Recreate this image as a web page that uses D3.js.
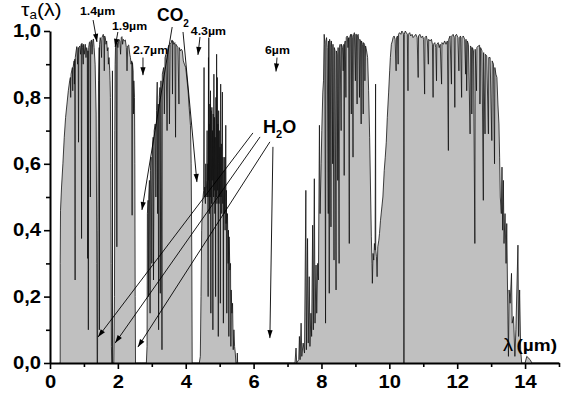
<!DOCTYPE html>
<html>
<head>
<meta charset="utf-8">
<script src="https://cdn.jsdelivr.net/npm/d3@7"></script>
<style>
  html, body { margin: 0; padding: 0; background: #fff; }
  svg { display: block; font-family: "Liberation Sans", Arial, sans-serif; }
</style>
</head>
<body>
<svg id="chart" width="570" height="395"></svg>
<script>
// Atmospheric transmittance spectrum, [wavelength (µm), transmittance] pairs per band.
const band1 = [
  [0.28,0],[0.30,0],[0.30,0.30],[0.31,0.46],[0.34,0.53],[0.38,0.60],[0.42,0.68],[0.46,0.74],
  [0.50,0.78],[0.54,0.82],[0.58,0.85],[0.60,0.86],[0.61,0.80],[0.62,0.87],[0.66,0.89],[0.67,0.82],
  [0.68,0.89],[0.71,0.91],[0.72,0.84],[0.73,0.915],[0.74,0.25],[0.745,0.92],[0.77,0.94],[0.79,0.953],
  [0.81,0.90],[0.83,0.95],[0.84,0.665],[0.85,0.95],[0.88,0.955],[0.90,0.93],[0.92,0.96],[0.93,0.375],
  [0.94,0.963],[0.96,0.95],[0.98,0.90],[0.99,0.96],[1.01,0.93],[1.04,0.96],[1.06,0.92],[1.08,0.95],
  [1.10,0.94],[1.11,0.315],[1.12,0.94],[1.13,0.10],[1.14,0.95],[1.16,0.965],[1.18,0.968],[1.19,0.50],
  [1.20,0.96],[1.22,0.973],[1.24,0.93],[1.26,0.97],[1.28,0.976],[1.30,0.95],[1.33,0.90],[1.36,0.75],
  [1.38,0.30],[1.39,0]
];
const band2 = [
  [1.40,0],[1.41,0.40],[1.43,0.85],[1.45,0.95],[1.455,0.10],[1.46,0.96],[1.48,0.98],[1.50,0.97],
  [1.52,0.92],[1.53,0.98],[1.55,0.985],[1.57,0.99],[1.59,0.97],[1.60,0.88],[1.61,0.985],[1.63,0.98],
  [1.65,0.96],[1.67,0.97],[1.69,0.94],[1.71,0.95],[1.72,0.90],[1.74,0.92],[1.76,0.88],[1.77,0.85],
  [1.78,0.80],[1.79,0.60],[1.80,0.30],[1.81,0.05],[1.82,0],[1.835,0],[1.84,0.88],[1.845,0]
];
const band3 = [
  [1.88,0],[1.90,0.20],[1.91,0.70],[1.92,0.90],[1.93,0.95],[1.95,0.96],[1.97,0.35],[1.98,0.965],
  [2.00,0.95],[2.03,0.975],[2.06,0.97],[2.08,0.93],[2.10,0.98],[2.12,0.983],[2.14,0.96],[2.16,0.975],
  [2.19,0.97],[2.22,0.973],[2.25,0.95],[2.27,0.88],[2.29,0.955],[2.32,0.958],[2.35,0.93],[2.37,0.92],
  [2.39,0.90],[2.41,0.91],[2.42,0.445],[2.43,0.905],[2.45,0.88],[2.46,0.75],[2.47,0.85],[2.49,0.80],
  [2.50,0.60],[2.51,0.20],[2.52,0],[2.55,0]
];
const band4 = [
  [2.84,0],[2.86,0.05],[2.87,0.45],[2.89,0.49],[2.90,0.20],[2.91,0.50],[2.93,0.55],[2.95,0.15],
  [2.96,0.58],[2.98,0.62],[3.00,0.30],[3.02,0.65],[3.04,0.68],[3.05,0.25],[3.07,0.70],[3.10,0.72],
  [3.12,0.50],[3.14,0.76],[3.16,0.846],[3.17,0.45],[3.19,0.78],[3.20,0.10],[3.22,0.80],[3.24,0.83],
  [3.25,0.21],[3.27,0.85],[3.30,0.04],[3.31,0.87],[3.33,0.88],[3.35,0.89],[3.37,0.75],[3.39,0.92],
  [3.42,0.93],[3.45,0.70],[3.47,0.945],[3.50,0.957],[3.52,0.72],[3.54,0.96],[3.57,0.965],[3.60,0.973],
  [3.61,0.81],[3.62,0.97],[3.65,0.96],[3.68,0.965],[3.70,0.68],[3.71,0.96],[3.74,0.955],[3.77,0.95],
  [3.80,0.78],[3.81,0.95],[3.84,0.94],[3.87,0.945],[3.90,0.94],[3.93,0.91],[3.96,0.90],[4.00,0.89],
  [4.04,0.85],[4.07,0.82],[4.10,0.77],[4.14,0.716],[4.16,0.60],[4.18,0.30],[4.19,0],[4.22,0]
];
const band5 = [
  [4.40,0],[4.43,0.02],[4.45,0.20],[4.47,0.40],[4.49,0.48],[4.51,0.50],[4.53,0.52],[4.54,0.89],
  [4.545,0.50],[4.56,0.53],[4.58,0.48],[4.59,0.60],[4.60,0.50],[4.62,0.55],[4.63,0.70],[4.64,0.50],
  [4.65,0.60],[4.66,0.20],[4.665,0.62],[4.67,0.92],[4.675,0.55],[4.68,0.98],[4.685,0.50],[4.69,0.72],
  [4.70,0.45],[4.71,0.78],[4.72,0.50],[4.73,0.82],[4.74,0.15],[4.745,0.60],[4.75,0.76],[4.76,0.48],
  [4.77,0.77],[4.78,0.55],[4.79,0.70],[4.80,0.10],[4.805,0.60],[4.81,0.75],[4.82,0.50],[4.83,0.87],
  [4.84,0.52],[4.85,0.74],[4.86,0.45],[4.87,0.68],[4.88,0.20],[4.885,0.55],[4.89,0.80],[4.90,0.50],
  [4.91,0.93],[4.92,0.48],[4.93,0.86],[4.94,0.52],[4.95,0.72],[4.96,0.08],[4.965,0.60],[4.97,0.76],
  [4.98,0.48],[4.99,0.70],[5.00,0.50],[5.01,0.65],[5.02,0.18],[5.025,0.55],[5.03,0.84],[5.04,0.50],
  [5.05,0.66],[5.06,0.45],[5.07,0.60],[5.08,0.816],[5.09,0.48],[5.10,0.62],[5.11,0.12],[5.115,0.50],
  [5.13,0.58],[5.14,0.45],[5.15,0.62],[5.16,0.40],[5.18,0.716],[5.19,0.42],[5.20,0.52],[5.21,0.15],
  [5.215,0.40],[5.23,0.45],[5.25,0.30],[5.26,0.40],[5.27,0.08],[5.28,0.38],[5.30,0.28],[5.32,0.30],
  [5.33,0.05],[5.34,0.22],[5.36,0.15],[5.38,0.18],[5.40,0.04],[5.42,0.10],[5.44,0.05],[5.46,0.03],
  [5.48,0],[5.51,0],[5.52,0.03],[5.53,0]
];
const band6 = [
  [7.15,0],[7.22,0],[7.25,0.045],[7.27,0],[7.33,0.01],[7.35,0.08],[7.37,0.01],[7.40,0.12],
  [7.42,0.02],[7.46,0.06],[7.50,0.03],[7.54,0.52],[7.555,0.04],[7.59,0.375],[7.61,0.06],[7.64,0.26],
  [7.66,0.05],[7.69,0.15],[7.71,0.08],[7.74,0.415],[7.76,0.10],[7.79,0.555],[7.81,0.12],[7.84,0.295],
  [7.86,0.15],[7.89,0.30],[7.91,0.25],[7.94,0.716],[7.96,0.45],[7.99,0.60],[8.01,0.70],[8.04,0.816],
  [8.06,0.85],[8.08,0.99],[8.10,0.96],[8.12,0.12],[8.13,0.97],[8.15,0.98],[8.17,0.95],[8.20,0.45],
  [8.21,0.97],[8.23,0.21],[8.24,0.975],[8.26,0.96],[8.28,0.41],[8.29,0.97],[8.31,0.95],[8.33,0.60],
  [8.34,0.96],[8.37,0.31],[8.38,0.95],[8.40,0.94],[8.43,0.22],[8.44,0.94],[8.46,0.93],[8.48,0.55],
  [8.49,0.95],[8.52,0.30],[8.53,0.95],[8.55,0.96],[8.58,0.70],[8.59,0.96],[8.62,0.95],[8.64,0.88],
  [8.66,0.96],[8.67,0.565],[8.68,0.96],[8.70,0.97],[8.72,0.80],[8.73,0.98],[8.76,0.985],[8.78,0.95],
  [8.80,0.98],[8.82,0.36],[8.83,0.98],[8.86,0.99],[8.88,0.75],[8.89,0.99],[8.91,0.98],[8.93,0.62],
  [8.94,0.985],[8.97,0.995],[9.00,0.85],[9.01,0.99],[9.03,0.99],[9.05,0.78],[9.06,0.985],[9.08,0.99],
  [9.10,0.97],[9.12,0.80],[9.13,0.975],[9.15,0.97],[9.17,0.72],[9.18,0.97],[9.21,0.96],[9.23,0.75],
  [9.24,0.965],[9.27,0.96],[9.28,0.85],[9.30,0.955],[9.33,0.94],[9.36,0.92],[9.39,0.82],[9.42,0.68],
  [9.45,0.50],[9.47,0.38],[9.49,0.30],[9.50,0.24],[9.52,0.33],[9.54,0.31],[9.56,0.36],[9.58,0.34],
  [9.595,0.84],[9.60,0.34],[9.62,0.32],[9.64,0.26],[9.66,0.35],[9.69,0.37],[9.71,0.39],[9.74,0.43],
  [9.78,0.47],[9.81,0.50],[9.85,0.58],[9.88,0.62],[9.91,0.665],[9.94,0.74],[9.98,0.816],[10.01,0.88],
  [10.03,0.92],[10.06,0.96],[10.09,0.97],[10.11,0.98],[10.14,0.985],[10.17,0.975],[10.20,0.88],[10.21,0.98],
  [10.24,0.985],[10.26,0.90],[10.27,0.99],[10.30,0.995],[10.34,0.99],[10.37,1.0],[10.40,0.995],[10.42,0.99],
  [10.43,0],[10.44,0.99],[10.47,1.0],[10.50,0.995],[10.53,0.99],[10.55,0.82],[10.56,0.99],[10.60,0.995],
  [10.63,0.985],[10.67,0.99],[10.70,0.98],[10.74,0.985],[10.78,0.99],[10.82,0.98],[10.85,0.86],[10.86,0.985],
  [10.90,0.99],[10.94,0.98],[10.98,0.985],[11.01,0.975],[11.04,0.81],[11.05,0.98],[11.09,0.985],[11.12,0.97],
  [11.15,0.90],[11.16,0.975],[11.20,0.97],[11.24,0.975],[11.27,0.96],[11.29,0.80],[11.30,0.96],[11.34,0.965],
  [11.37,0.95],[11.39,0.85],[11.40,0.96],[11.44,0.965],[11.47,0.95],[11.50,0.96],[11.54,0.84],[11.55,0.965],
  [11.59,0.96],[11.63,0.97],[11.67,0.96],[11.71,0.97],[11.74,0.64],[11.75,0.975],[11.79,0.985],[11.83,0.84],
  [11.84,0.985],[11.88,0.99],[11.91,0.98],[11.93,0.77],[11.94,0.985],[11.98,0.99],[12.02,0.98],[12.05,0.88],
  [12.06,0.98],[12.10,0.985],[12.13,0.80],[12.14,0.98],[12.18,0.985],[12.22,0.975],[12.25,0.87],[12.26,0.975],
  [12.28,0.82],[12.30,0.97],[12.33,0.96],[12.38,0.69],[12.39,0.955],[12.42,0.95],[12.43,0.75],[12.45,0.95],
  [12.48,0.94],[12.52,0.36],[12.53,0.945],[12.57,0.82],[12.58,0.95],[12.62,0.955],[12.66,0.957],[12.67,0.78],
  [12.69,0.95],[12.73,0.94],[12.77,0.49],[12.78,0.935],[12.82,0.69],[12.83,0.93],[12.87,0.925],[12.92,0.69],
  [12.93,0.92],[12.97,0.92],[13.02,0.67],[13.03,0.91],[13.07,0.90],[13.10,0.60],[13.11,0.89],[13.14,0.87],
  [13.17,0.86],[13.20,0.78],[13.23,0.72],[13.25,0.62],[13.27,0.50],[13.30,0.45],[13.32,0.59],[13.34,0.40],
  [13.36,0.55],[13.38,0.36],[13.41,0.45],[13.44,0.30],[13.46,0.42],[13.48,0.25],[13.51,0.02],[13.53,0.22],
  [13.56,0.18],[13.60,0.27],[13.62,0.12],[13.66,0.14],[13.70,0.02],[13.73,0.10],[13.79,0.355],[13.81,0.08],
  [13.84,0.22],[13.87,0.04],[13.90,0],[14.00,0],[14.05,0.02],[14.15,0.01],[14.20,0],[15.00,0]
];

const xMajorTicks = [0, 2, 4, 6, 8, 10, 12, 14];
const xMinorTicks = [1, 3, 5, 7, 9, 11, 13, 15];
const yMajorTicks = [0, 0.2, 0.4, 0.6, 0.8, 1.0];
const yMinorTicks = [0.1, 0.3, 0.5, 0.7, 0.9];

// Absorption band markers: label, label anchor [λ, τ], arrow from/to [λ, τ]
const bandMarkers = [
  { text: "1.4µm", at: [0.884, 1.048], from: [1.27, 1.033], to: [1.385, 0.967] },
  { text: "1.9µm", at: [1.827, 1.003], from: [2.00, 0.997], to: [1.92, 0.952] },
  { text: "2.7µm", at: [2.446, 0.930], from: [2.74, 0.920], to: [2.74, 0.867] },
  { text: "4.3µm", at: [4.15, 0.988], from: [4.42, 0.982], to: [4.36, 0.928] },
  { text: "6µm",   at: [6.337, 0.930], from: [6.69, 0.920], to: [6.66, 0.878] }
];
const co2Arrows = [
  { from: [3.60, 1.012], to: [2.71, 0.461] },
  { from: [3.92, 0.997], to: [4.33, 0.545] }
];
const h2oArrows = [
  { from: [5.98, 0.693], to: [1.415, 0.078] },
  { from: [6.19, 0.681], to: [1.92, 0.060] },
  { from: [6.48, 0.666], to: [2.59, 0.048] },
  { from: [6.57, 0.651], to: [6.48, 0.075] }
];

const spectrum = [].concat(band1, band2, band3, [[2.70, 0]], band4, band5, band6);

const svg = d3.select("#chart");
const x = d3.scaleLinear().domain([0, 15]).range([50, 559]);
const y = d3.scaleLinear().domain([0, 1]).range([363, 31]);
const WIDEN = "scale(1.12,1)";   // slightly wide lettering

// filled transmittance area
svg.append("path")
  .datum(spectrum)
  .attr("d", d3.area().x(d => x(d[0])).y0(y(0)).y1(d => y(d[1])))
  .attr("fill", "#c0c0c0");

// spectrum outline
svg.append("path")
  .datum(spectrum)
  .attr("d", d3.line().x(d => x(d[0])).y(d => y(d[1])))
  .attr("fill", "none")
  .attr("stroke", "#111")
  .attr("stroke-width", 0.8)
  .attr("stroke-linejoin", "miter");

// axes
const axisFont = g => g.attr("font-family", "'Liberation Sans', Arial, sans-serif")
  .attr("font-size", 18).attr("font-weight", "bold");

const gx = svg.append("g").attr("transform", `translate(0,${y(0)})`);
gx.call(d3.axisBottom(x).tickValues(xMajorTicks).tickSize(6).tickSizeOuter(0).tickPadding(6)
  .tickFormat(d3.format("d")))
  .call(axisFont);
gx.append("g").call(d3.axisBottom(x).tickValues(xMinorTicks).tickSize(4).tickFormat(""))
  .call(g => g.select(".domain").remove());

const gy = svg.append("g").attr("transform", `translate(${x(0)},0)`);
gy.call(d3.axisLeft(y).tickValues(yMajorTicks).tickSize(6).tickSizeOuter(0).tickPadding(2)
  .tickFormat(d => d3.format(".1f")(d).replace(".", ",")))
  .call(axisFont);
gy.append("g").call(d3.axisLeft(y).tickValues(yMinorTicks).tickSize(4).tickFormat(""))
  .call(g => g.select(".domain").remove());

svg.selectAll(".domain").attr("stroke", "#000").attr("stroke-width", 2);
svg.selectAll(".tick line").attr("stroke", "#000").attr("stroke-width", 1.6);
svg.selectAll(".tick text").attr("fill", "#000").attr("transform", WIDEN);

// arrowhead
svg.append("defs").append("marker")
  .attr("id", "head")
  .attr("viewBox", "-9 -3 10 6")
  .attr("refX", 0).attr("refY", 0)
  .attr("markerWidth", 10).attr("markerHeight", 6)
  .attr("markerUnits", "userSpaceOnUse")
  .attr("orient", "auto")
  .append("path").attr("d", "M0,0L-8,-2.6L-8,2.6Z").attr("fill", "#000");

const drawArrow = a => svg.append("line")
  .attr("x1", x(a.from[0])).attr("y1", y(a.from[1]))
  .attr("x2", x(a.to[0])).attr("y2", y(a.to[1]))
  .attr("stroke", "#000").attr("stroke-width", 0.9)
  .attr("marker-end", "url(#head)");

// text placed at a pixel anchor, optionally with the wide lettering
const label = (px, py, wide = true) => svg.append("text")
  .attr("transform", `translate(${px},${py})${wide ? " " + WIDEN : ""}`)
  .attr("fill", "#000");

bandMarkers.forEach(m => {
  drawArrow(m);
  label(x(m.at[0]), y(m.at[1]))
    .attr("font-size", 11).attr("font-weight", "bold")
    .text(m.text);
});
co2Arrows.forEach(drawArrow);
h2oArrows.forEach(drawArrow);

// molecule labels
const co2 = label(x(3.154), y(1.03), false).attr("font-size", 17.5).attr("font-weight", "bold");
co2.append("tspan").text("CO");
co2.append("tspan").attr("font-size", 10).attr("dy", 6).text("2");

const h2o = label(x(6.278), y(0.693), false).attr("font-size", 18).attr("font-weight", "bold");
h2o.append("tspan").text("H");
h2o.append("tspan").attr("font-size", 11).attr("dy", 5).text("2");
h2o.append("tspan").attr("dy", -5).text("O");

// axis titles
const yTitle = label(21, 16).attr("font-size", 19);
yTitle.append("tspan").text("τ");
yTitle.append("tspan").attr("font-size", 12).attr("dy", 3).text("a");
yTitle.append("tspan").attr("dy", -3).text("(λ)");

const xTitle = label(503, 351);
xTitle.append("tspan").attr("font-size", 18).text("λ");
xTitle.append("tspan").attr("font-size", 17).attr("font-weight", "bold").attr("dx", 3).text("(µm)");
</script>
</body>
</html>
